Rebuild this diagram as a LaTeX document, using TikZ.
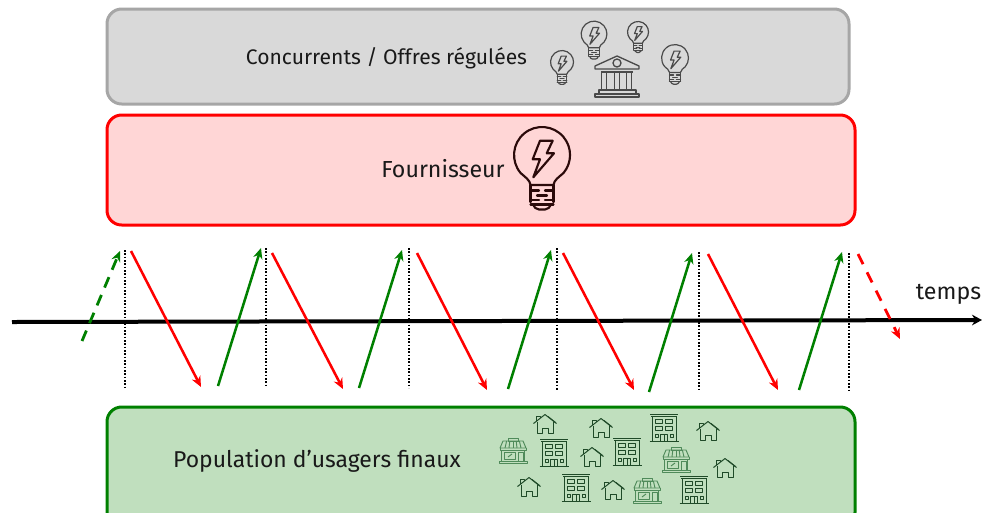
\documentclass[tikz,border=0pt]{standalone}
\usepackage{fontspec}
\setmainfont{Fira Sans}
\usetikzlibrary{arrows.meta}
\definecolor{grayfill}{HTML}{D9D9D9}
\definecolor{graybord}{HTML}{A6A6A6}
\definecolor{redfill}{HTML}{FFD6D6}
\definecolor{greenfill}{HTML}{C0DFBE}
\definecolor{dkgreen}{HTML}{008000}
\definecolor{bulbdark}{HTML}{2B0A0A}
\definecolor{icongray}{HTML}{4A4A4A}
\definecolor{icongreen}{HTML}{1F4A28}
\definecolor{shopgreen}{HTML}{4F8A5A}
\tikzset{
  x=0.75pt,y=0.75pt,
  panel/.style={rounded corners=11pt,line width=2.25pt,inner sep=0pt,outer sep=0pt,anchor=north west},
  lbl/.style={font=\fontsize{17.2pt}{20pt}\selectfont,text=black!90,inner sep=0pt},
  up/.style={dkgreen,line width=1.9pt,-{Stealth[length=8pt,width=7pt]}},
  down/.style={red,line width=1.9pt,-{Stealth[length=8pt,width=7pt]}},
  upd/.style={up,line width=2.1pt,dash pattern=on 8.5pt off 6pt},
  downd/.style={down,line width=2.1pt,dash pattern=on 8.5pt off 6.8pt},
  tick/.style={black,line width=1.4pt,dash pattern=on 1.2pt off 1.3pt},
  axis/.style={black,line width=3pt,-{Stealth[length=7.5pt,width=8pt]}},
  pics/bulb/.style n args={3}{code={
    \begin{scope}[scale=#1,draw=#2,line width=#3,line join=round,line cap=round]
      \draw (-11.5,-30) .. controls (-12,-25) and (-17,-22) .. (-21.4,-18)
            arc[start angle=220,end angle=-40,radius=28]
            .. controls (17,-22) and (12,-25) .. (11.5,-30) -- cycle;
      \draw (-2,14.3) -- (10.7,14.3) -- (4.7,1.7) -- (12,1.7) -- (-8.7,-22.3) -- (-2,-4.3) -- (-9.3,-4.3) -- cycle;
      \draw (-11.5,-30) -- (-11.5,-47) (11.5,-30) -- (11.5,-47);
      \draw (-11.5,-35.5) -- (-3,-35.5) (3,-35.5) -- (11.5,-35.5) (-5,-40.5) -- (5,-40.5) (-11.5,-45) -- (-3,-45) (3,-45) -- (11.5,-45);
      \draw (-11.5,-49.5) -- (11.5,-49.5);
      \draw (-9,-49.5) .. controls (-8,-52) and (-6,-54.5) .. (-3,-54.5) -- (3,-54.5) .. controls (6,-54.5) and (8,-52) .. (9,-49.5);
    \end{scope}
  }},
  pics/bank/.style={code={
    \begin{scope}[draw=icongray,line width=1pt,line join=round]
      \draw (0,20) -- (-22,10) -- (-22,7) -- (22,7) -- (22,10) -- cycle;
      \draw (0,13) circle[radius=4];
      \foreach \c in {-13,0,12} {\draw (\c-2.3,4) rectangle (\c+2.3,-14);}
      \draw (-16,4) -- (16,4);
      \draw (-18,-14) rectangle (19,-18);
      \draw (-22,-18) rectangle (22,-21);
    \end{scope}
  }},
  pics/house/.style={code={
    \begin{scope}[draw=icongreen,line width=0.75pt,line join=round]
      \draw (-11.5,0.5) -- (0,9.5) -- (11.5,0.5);
      \draw (3,7.5) -- (10.5,1.5);
      \draw (-8,2.5) -- (-8,-9.5) -- (-3,-9.5) -- (-3,-4) -- (3,-4) -- (3,-9.5) -- (8,-9.5) -- (8,2.5);
      \draw (-8.5,3.5) -- (-8.5,7.5) -- (-5,7.5) -- (-5,6);
    \end{scope}
  }},
  pics/block/.style={code={
    \begin{scope}[draw=icongreen,line width=0.75pt,line join=round]
      \draw (-14,13.5) -- (14,13.5) (-13,11.5) -- (13,11.5);
      \draw (-12,11.5) -- (-12,-13.5) (12,11.5) -- (12,-13.5);
      \draw (-14.5,-13.5) -- (14.5,-13.5);
      \foreach \a in {-9,1} {
        \draw (\a,8.5) rectangle (\a+7,4.5);
        \draw (\a,1.5) rectangle (\a+7,-2.5);
      }
      \draw (-9,-6) rectangle (-6,-9);
      \draw (6,-6) rectangle (9,-9);
      \draw (-3.5,-13.5) rectangle (3.5,-6);
      \draw (0,-13.5) -- (0,-6);
    \end{scope}
  }},
  pics/shop/.style={code={
    \begin{scope}[draw=shopgreen,line width=0.7pt,line join=round]
      \draw (-5,13) rectangle (5,10);
      \draw (-10,10) -- (10,10) -- (13,3) -- (-13,3) -- cycle;
      \foreach \c in {-8,-4,0,4,8} {\draw (\c*0.8,10) -- (\c,3);}
      \draw (-13,3) -- (-13,1) -- (13,1) -- (13,3);
      \draw (-11.5,1) -- (-11.5,-10) (11.5,1) -- (11.5,-10);
      \draw (-14,-10) rectangle (14,-12.5);
      \draw (-9,-1) rectangle (2.5,-8.5);
      \draw (-5,-6) -- (-1,-3);
      \draw (5,-1) rectangle (10,-10);
    \end{scope}
  }}
}
\begin{document}
\begin{tikzpicture}
\clip (0,0) rectangle (982,-512);
\fill[white] (0,0) rectangle (982,-512);

% panels
\node[panel,draw=graybord,fill=grayfill,minimum width=556.5pt,minimum height=71.25pt] (concurrents) at (107,-9) {};
\node[panel,draw=red,fill=redfill,minimum width=561pt,minimum height=82.5pt] (fournisseur) at (107,-115) {};
\node[panel,draw=dkgreen,fill=greenfill,minimum width=561pt,minimum height=90pt] (population) at (107,-407) {};

% labels
\node[lbl,font=\fontsize{15.8pt}{18pt}\selectfont] (lconc) at (386.5,-58.5) {Concurrents / Offres régulées};
\node[lbl,font=\fontsize{17.4pt}{20pt}\selectfont] (lfour) at (443,-169) {Fournisseur};
\node[lbl] (lpop) at (317,-460.5) {Population d’usagers finaux};
\node[lbl,font=\fontsize{17.4pt}{20pt}\selectfont] (ltemps) at (948.5,-294) {temps};

% axis
\coordinate (ax0) at (12,-322);
\coordinate (ax1) at (982,-320);
\draw[axis] (ax0) -- (ax1);

% time ticks
\coordinate (t1a) at (125,-250); \coordinate (t1b) at (125,-388);
\coordinate (t2a) at (266,-248); \coordinate (t2b) at (266,-387);
\coordinate (t3a) at (409,-248); \coordinate (t3b) at (409,-388);
\coordinate (t4a) at (557,-248); \coordinate (t4b) at (557,-390);
\coordinate (t5a) at (699,-252); \coordinate (t5b) at (699,-390);
\coordinate (t6a) at (849,-253); \coordinate (t6b) at (849,-392);
\draw[tick] (t1a) -- (t1b);
\draw[tick] (t2a) -- (t2b);
\draw[tick] (t3a) -- (t3b);
\draw[tick] (t4a) -- (t4b);
\draw[tick] (t5a) -- (t5b);
\draw[tick] (t6a) -- (t6b);

% green arrows
\coordinate (g0a) at (82,-341); \coordinate (g0b) at (120,-251);
\coordinate (g1a) at (218,-386); \coordinate (g1b) at (261,-248);
\coordinate (g2a) at (359,-388); \coordinate (g2b) at (402,-250);
\coordinate (g3a) at (508,-389); \coordinate (g3b) at (551,-250);
\coordinate (g4a) at (649,-392); \coordinate (g4b) at (692,-253);
\coordinate (g5a) at (799,-390); \coordinate (g5b) at (842,-252);
\draw[upd] (g0a) -- (g0b);
\draw[up] (g1a) -- (g1b);
\draw[up] (g2a) -- (g2b);
\draw[up] (g3a) -- (g3b);
\draw[up] (g4a) -- (g4b);
\draw[up] (g5a) -- (g5b);

% red arrows
\coordinate (r1a) at (131,-251); \coordinate (r1b) at (201,-387);
\coordinate (r2a) at (272,-253); \coordinate (r2b) at (343,-389);
\coordinate (r3a) at (417,-253); \coordinate (r3b) at (487,-390);
\coordinate (r4a) at (563,-253); \coordinate (r4b) at (634,-390);
\coordinate (r5a) at (708,-254); \coordinate (r5b) at (778,-390);
\coordinate (r6a) at (858,-254); \coordinate (r6b) at (900,-339);
\draw[down] (r1a) -- (r1b);
\draw[down] (r2a) -- (r2b);
\draw[down] (r3a) -- (r3b);
\draw[down] (r4a) -- (r4b);
\draw[down] (r5a) -- (r5b);
\draw[downd] (r6a) -- (r6b);

% icons
\pic at (542,-155) {bulb={1}{bulbdark}{1.6pt}};
\pic at (594,-34) {bulb={0.46}{icongray}{0.9pt}};
\pic at (638,-32) {bulb={0.375}{icongray}{0.9pt}};
\pic at (675,-58) {bulb={0.48}{icongray}{0.9pt}};
\pic at (562,-62) {bulb={0.41}{icongray}{0.9pt}};
\pic at (617,-76) {bank};

\pic at (545,-424) {house};
\pic at (601,-428) {house};
\pic at (592,-457) {house};
\pic at (708,-431) {house};
\pic at (725,-468) {house};
\pic at (529,-487) {house};
\pic at (613,-490) {house};

\pic at (554,-453) {block};
\pic at (627,-452) {block};
\pic at (664,-428) {block};
\pic at (576,-488) {block};
\pic at (694,-490) {block};

\pic at (513,-451) {shop};
\pic at (676,-460) {shop};
\pic at (647,-491) {shop};
\end{tikzpicture}
\end{document}
